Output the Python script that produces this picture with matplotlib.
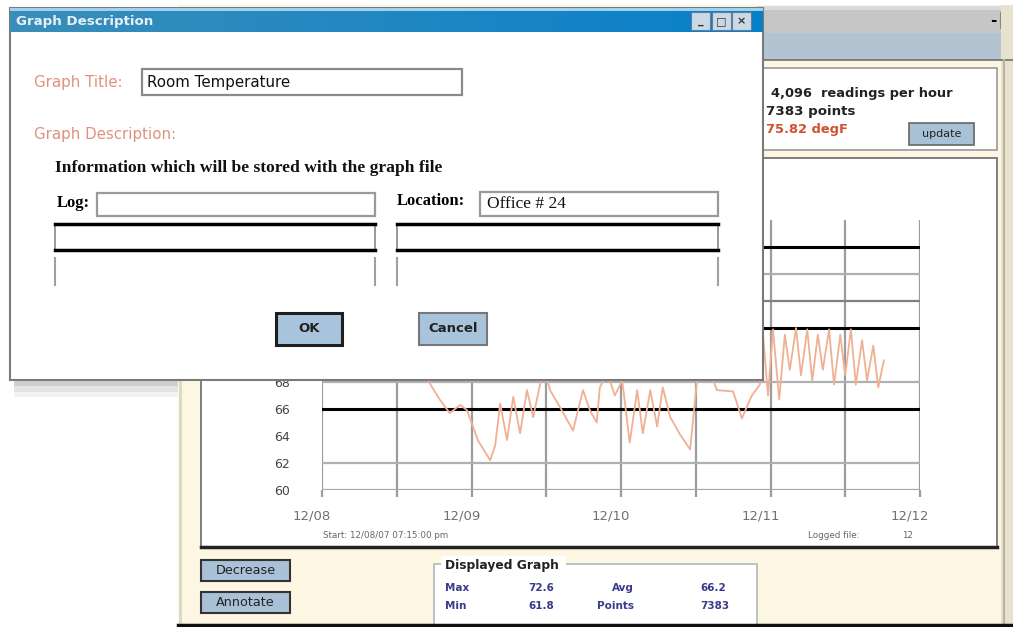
import numpy as np
import matplotlib
matplotlib.use("Agg")
import matplotlib.pyplot as plt
from matplotlib.patches import Rectangle
import matplotlib.transforms as mtransforms

# ---------------- data ----------------
hours = [12.5, 14.1, 15.7, 17.3, 18.9, 20.5, 22.2, 23.3, 25.0, 27.0, 27.8, 28.6,
         29.7, 30.7, 31.8, 32.9, 33.9, 35.0, 35.8, 36.6, 38.5, 40.3, 41.9, 43.0,
         44.1, 44.6, 45.8, 47.0, 48.2, 49.4, 50.6, 51.5, 52.7, 53.8, 54.7, 55.9,
         57.5, 59.1, 60.2, 61.5, 63.4, 66.0, 67.4, 69.0, 70.3, 70.8, 71.6, 72.4,
         73.4, 74.3, 75.1, 76.1, 76.9, 77.9, 78.7, 79.6, 80.4, 81.4, 82.2, 83.2,
         84.0, 84.9, 85.7, 86.7, 87.5, 88.5, 89.3, 90.2]
temps = [71.9, 70.7, 69.3, 67.9, 66.7, 65.7, 66.3, 65.9, 63.7, 62.2, 63.3, 66.4,
         63.7, 66.9, 64.2, 67.4, 65.4, 67.8, 68.9, 67.4, 65.9, 64.4, 67.4, 65.9,
         65.0, 67.6, 68.7, 67.0, 68.1, 63.5, 67.4, 64.2, 67.4, 64.7, 67.6, 65.4,
         64.1, 63.0, 68.1, 69.6, 67.4, 67.3, 65.3, 67.0, 67.8, 71.5, 67.0, 71.9,
         66.7, 71.5, 68.9, 72.0, 68.5, 71.9, 68.1, 71.5, 68.9, 71.9, 67.8, 71.5,
         68.5, 71.9, 67.8, 71.1, 68.1, 70.7, 67.6, 69.6]
day_ticks = [0, 24, 48, 72, 96]
day_labels = ["12/08", "12/09", "12/10", "12/11", "12/12"]
temp_ticks = list(range(60, 81, 2))
black_lines = [66, 72, 78]
grey_lines = [62, 68, 76]
dark_grey_lines = [74]

W, H = 1013, 627
fig = plt.figure(figsize=(W / 100, H / 100), dpi=100)
fig.patch.set_facecolor("white")

def px_axes(z):
    a = fig.add_axes([0, 0, 1, 1], zorder=z)
    a.set_xlim(0, W)
    a.set_ylim(H, 0)
    a.axis("off")
    a.patch.set_visible(False)
    return a

bg = px_axes(0)
ov = px_axes(2)

def rect(a, x0, y0, x1, y1, fc, ec="none", lw=1.0, z=1):
    a.add_patch(Rectangle((x0, y0), x1 - x0, y1 - y0, facecolor=fc,
                          edgecolor=ec, linewidth=lw, zorder=z))

def txt(a, x, y, s, size=9, color="black", weight="normal", ha="left",
        family="DejaVu Sans", z=5):
    a.text(x, y, s, fontsize=size, color=color, fontweight=weight, ha=ha,
           va="center", family=family, zorder=z)

# ---------------- back window ----------------
rect(bg, 178, 5, 1013, 625, "#FCF6E2")
rect(bg, 757, 6, 1013, 33, "#C6C6C6")
rect(bg, 757, 6, 1013, 10, "#DADADA")
rect(bg, 757, 33, 1013, 60, "#B3C3D2")
bg.plot([757, 1013], [60, 60], color="#707070", lw=1.2, zorder=2)
txt(bg, 990, 20, "-", size=11, weight="bold")
rect(bg, 1000, 12, 1011, 28, "#D6D6D6", "#888", 0.8)
rect(bg, 1001, 5, 1013, 625, "#E6E2CE")
bg.plot([1004, 1004], [60, 625], color="#B8B4A0", lw=1.5, zorder=2)

# info panel
rect(bg, 763, 68, 997, 150, "white", "#9A9A9A", 1.2)
txt(bg, 771, 93, "4,096  readings per hour", size=9.4, weight="bold", color="#222")
txt(bg, 766, 112, "7383 points", size=9.6, weight="bold", color="#222")
txt(bg, 766, 129, "75.82 degF", size=9.4, weight="bold", color="#D0502E")
rect(bg, 909, 123, 974, 145, "#A9C1D5", "#666", 1.2)
txt(bg, 941.5, 134, "update", size=8, ha="center", color="#222")

# chart panel
rect(bg, 201, 158, 997, 547, "white", "#6A6A6A", 1.2)
bg.plot([201, 997], [547, 547], color="#222", lw=2.5, zorder=3)
txt(bg, 323, 535, "Start: 12/08/07 07:15:00 pm", size=6.3, color="#666")
txt(bg, 808, 536, "Logged file:", size=6.3, color="#666")
txt(bg, 902, 536, "12", size=6.3, color="#666")

# bottom controls
bg.plot([178, 1013], [625, 625], color="#111", lw=2.5, zorder=3)
bg.plot([180, 180], [380, 625], color="#DDD8C4", lw=2, zorder=2)
rect(bg, 201, 560, 290, 581, "#A8C1D6", "#333", 1.5)
txt(bg, 245.5, 570.5, "Decrease", size=9.2, ha="center", color="#222")
rect(bg, 201, 592, 290, 613, "#A8C1D6", "#333", 1.5)
txt(bg, 245.5, 602.5, "Annotate", size=9.2, ha="center", color="#222")

rect(bg, 434, 564, 757, 625, "white", "#B0B8C0", 1.2)
rect(bg, 441, 556, 566, 572, "white")
txt(bg, 445, 565, "Displayed Graph", size=8.8, weight="bold", color="#222")
lab = "#3A3A8C"
txt(bg, 445, 588, "Max", size=7.5, weight="bold", color=lab)
txt(bg, 528, 588, "72.6", size=7.5, weight="bold", color=lab)
txt(bg, 634, 588, "Avg", size=7.5, weight="bold", color=lab, ha="right")
txt(bg, 700, 588, "66.2", size=7.5, weight="bold", color=lab)
txt(bg, 445, 606, "Min", size=7.5, weight="bold", color=lab)
txt(bg, 528, 606, "61.8", size=7.5, weight="bold", color=lab)
txt(bg, 634, 606, "Points", size=7.5, weight="bold", color=lab, ha="right")
txt(bg, 700, 606, "7383", size=7.5, weight="bold", color=lab)

# ---------------- chart ----------------
ax = fig.add_axes([322 / W, 137 / H, 598 / W, 270 / H], zorder=1)
ax.patch.set_visible(False)
for s in ax.spines.values():
    s.set_visible(False)
ax.set_xlim(0, 96)
ax.set_ylim(60, 80)
for h in range(0, 97, 12):
    ax.axvline(h, color="#9C9C9C", lw=1.6, zorder=1)
ax.axhline(60, color="#A8A8A8", lw=1.6, zorder=1)
for v in grey_lines:
    ax.axhline(v, color="#B0B0B0", lw=1.6, zorder=1)
for v in dark_grey_lines:
    ax.axhline(v, color="#808080", lw=1.6, zorder=1)
for v in black_lines:
    ax.axhline(v, color="black", lw=2.2, zorder=1)
ax.plot(hours, temps, color="#F0B092", lw=1.3, zorder=3)

ax.set_xticks(day_ticks)
ax.set_xticklabels(day_labels)
ax.set_xticks(list(range(0, 97, 12)), minor=True)
ax.tick_params(axis="x", which="major", length=5, width=1.6, color="#9C9C9C",
               pad=9, labelsize=9.5, labelcolor="#707070")
ax.tick_params(axis="x", which="minor", length=5, width=1.6, color="#9C9C9C")
ax.set_yticks(temp_ticks)
ax.tick_params(axis="y", length=0, pad=23, labelsize=9, labelcolor="#444")
off = mtransforms.ScaledTranslation(-10 / 100, 0, fig.dpi_scale_trans)
for lbl in ax.get_xticklabels():
    lbl.set_transform(lbl.get_transform() + off)

# ---------------- dialog overlay ----------------
rect(ov, 14, 380, 178, 386, "#CFCFCF", z=0)
rect(ov, 14, 386, 178, 392, "#E4E4E4", z=0)
rect(ov, 14, 392, 178, 397, "#F2F2F2", z=0)
rect(ov, 10, 8, 763, 380, "white", "#7A7A7A", 1.5)
grad = np.linspace(0, 1, 256)
c0 = np.array([0x3A, 0x8E, 0xBA]) / 255
c1 = np.array([0x08, 0x80, 0xCA]) / 255
img = (c0[None, :] * (1 - grad[:, None]) + c1[None, :] * grad[:, None])[None, :, :]
ov.imshow(img, extent=(10, 763, 32, 8), aspect="auto", zorder=2, interpolation="bilinear")
rect(ov, 10, 8, 763, 11, "#9ED2EE", z=3)
ov.set_xlim(0, W)
ov.set_ylim(H, 0)
txt(ov, 16, 22, "Graph Description", size=9.6, weight="bold", color="#E6F0F8")
for x0, g in [(691, "_"), (712, "\u25a1"), (732, "\u00d7")]:
    rect(ov, x0, 12, x0 + 19, 30, "#CBD8E6", "#5E7E9E", 0.8, z=4)
    txt(ov, x0 + 9.5, 21, g, size=8, weight="bold", ha="center", color="#333", z=6)

sal = "#E0917C"
txt(ov, 34, 82, "Graph Title:", size=10.8, color=sal)
rect(ov, 142, 69, 462, 95, "white", "#8A8A8A", 1.6)
txt(ov, 147, 82, "Room Temperature", size=10.8, color="#111")
txt(ov, 34, 134, "Graph Description:", size=10.8, color=sal)
txt(ov, 55, 168, "Information which will be stored with the graph file", size=12.6,
    weight="bold", family="Liberation Serif", color="#111")
txt(ov, 57, 203, "Log:", size=12, weight="bold", family="Liberation Serif")
rect(ov, 97, 193, 375, 216, "white", "#9A9A9A", 1.6)
txt(ov, 397, 201, "Location:", size=12, weight="bold", family="Liberation Serif")
rect(ov, 480, 192, 718, 216, "white", "#9A9A9A", 1.6)
txt(ov, 487, 204, "Office # 24", size=12.5, family="Liberation Serif", color="#111")
for xa, xb in [(55, 375), (397, 718)]:
    rect(ov, xa, 224, xb, 250, "white", "#888", 1.2)
    ov.plot([xa, xb], [224, 224], color="black", lw=2.5, zorder=3)
    ov.plot([xa, xb], [250, 250], color="black", lw=2.5, zorder=3)
    for xv in (xa, xb):
        ov.plot([xv, xv], [258, 285], color="#A0A0A0", lw=1.5, zorder=3)
rect(ov, 276, 313, 342, 345, "#A8C4DC", "#1E1E1E", 2.2)
txt(ov, 309, 329, "OK", size=9.5, weight="bold", ha="center", color="#222")
rect(ov, 419, 313, 487, 345, "#A8C4DC", "#777", 1.5)
txt(ov, 453, 329, "Cancel", size=9.5, weight="bold", ha="center", color="#222")

fig.savefig("out.png", dpi=100)
